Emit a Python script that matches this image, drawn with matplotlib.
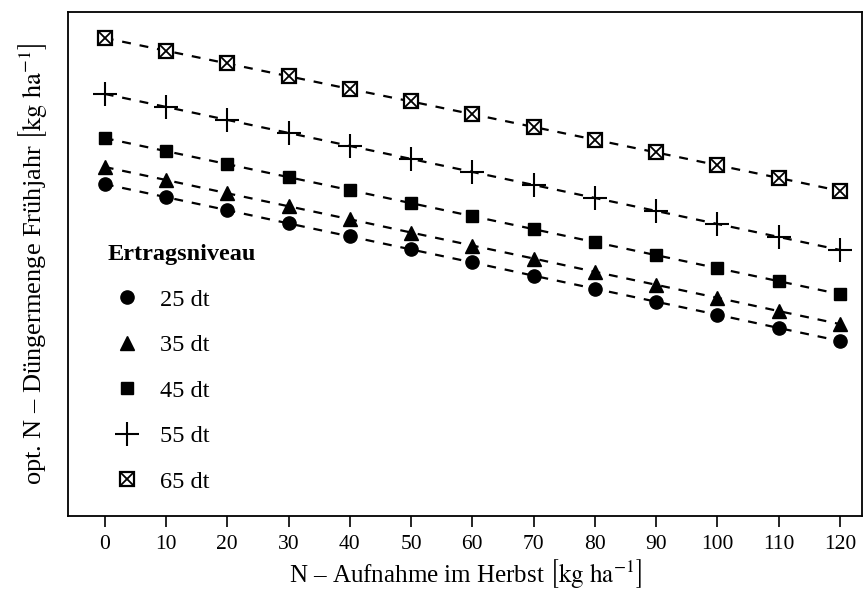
import matplotlib
matplotlib.use("Agg")
import matplotlib.pyplot as plt
from matplotlib.legend_handler import HandlerTuple

plt.rcParams['font.family'] = ['Liberation Serif', 'DejaVu Serif']
plt.rcParams['mathtext.fontset'] = 'stix'

n_herbst = [0, 10, 20, 30, 40, 50, 60, 70, 80, 90, 100, 110, 120]

dt25 = [143.8, 138.8, 133.8, 128.7, 123.7, 118.7, 113.7, 108.6, 103.6, 98.6, 93.6, 88.5, 83.5]
dt35 = [150.4, 145.4, 140.3, 135.3, 130.3, 125.2, 120.2, 115.2, 110.1, 105.1, 100.1, 95.0, 90.0]
dt45 = [161.5, 156.5, 151.5, 146.5, 141.5, 136.5, 131.5, 126.5, 121.5, 116.5, 111.5, 106.5, 101.5]
dt55 = [178.5, 173.5, 168.5, 163.5, 158.5, 153.5, 148.5, 143.5, 138.5, 133.5, 128.5, 123.5, 118.5]
dt65 = [200.0, 195.1, 190.2, 185.3, 180.4, 175.6, 170.7, 165.8, 160.9, 156.0, 151.1, 146.2, 141.2]

labels = ["25 dt", "35 dt", "45 dt", "55 dt", "65 dt"]

fig = plt.figure(figsize=(8.64, 5.91), dpi=100)
ax = fig.add_axes([68 / 864, 75 / 591, 794 / 864, 504 / 591])

for ys in [dt25, dt35, dt45, dt55, dt65]:
    ax.plot(n_herbst, ys, ls=(0, (4, 4)), color='black', lw=1.6, zorder=1)

h1, = ax.plot(n_herbst, dt25, 'o', ms=9.5, color='black', ls='none', zorder=2)
h2, = ax.plot(n_herbst, dt35, '^', ms=10.5, color='black', ls='none', zorder=2)
h3, = ax.plot(n_herbst, dt45, 's', ms=9, color='black', ls='none', zorder=2)
h4, = ax.plot(n_herbst, dt55, '+', ms=17, mew=1.5, color='black', ls='none', zorder=2)
h5a, = ax.plot(n_herbst, dt65, 's', ms=10.5, mfc='white', mec='black', mew=1.6, ls='none', zorder=2)
h5b, = ax.plot(n_herbst, dt65, 'x', ms=8.5, mec='black', mew=1.3, ls='none', zorder=3)

leg = ax.legend([h1, h2, h3, h4, (h5a, h5b)], labels,
                handler_map={tuple: HandlerTuple(ndivide=1, pad=0)},
                title="Ertragsniveau", title_fontproperties={'weight': 'bold', 'size': 17.5},
                loc='upper left', bbox_to_anchor=(0.038, 0.559), frameon=False,
                fontsize=17.5, labelspacing=0.97, handlelength=1.6, handletextpad=0.55,
                borderaxespad=0)
leg._legend_box.align = "left"

ax.set_xlim(-6.0, 123.6)
ax.set_ylim(16.2, 210.0)
ax.set_xticks(n_herbst)
ax.set_yticks([])
ax.tick_params(axis='x', labelsize=15.5, length=8, width=1.2, pad=6)
for sp in ax.spines.values():
    sp.set_linewidth(1.3)

ax.set_xlabel(r"N – Aufnahme im Herbst $\left[\mathrm{kg\ ha^{-1}}\right]$", fontsize=18, labelpad=2)
ax.set_ylabel(r"opt. N – Düngermenge Frühjahr $\left[\mathrm{kg\ ha^{-1}}\right]$", fontsize=19, labelpad=14)

fig.savefig("out.png", dpi=100)
